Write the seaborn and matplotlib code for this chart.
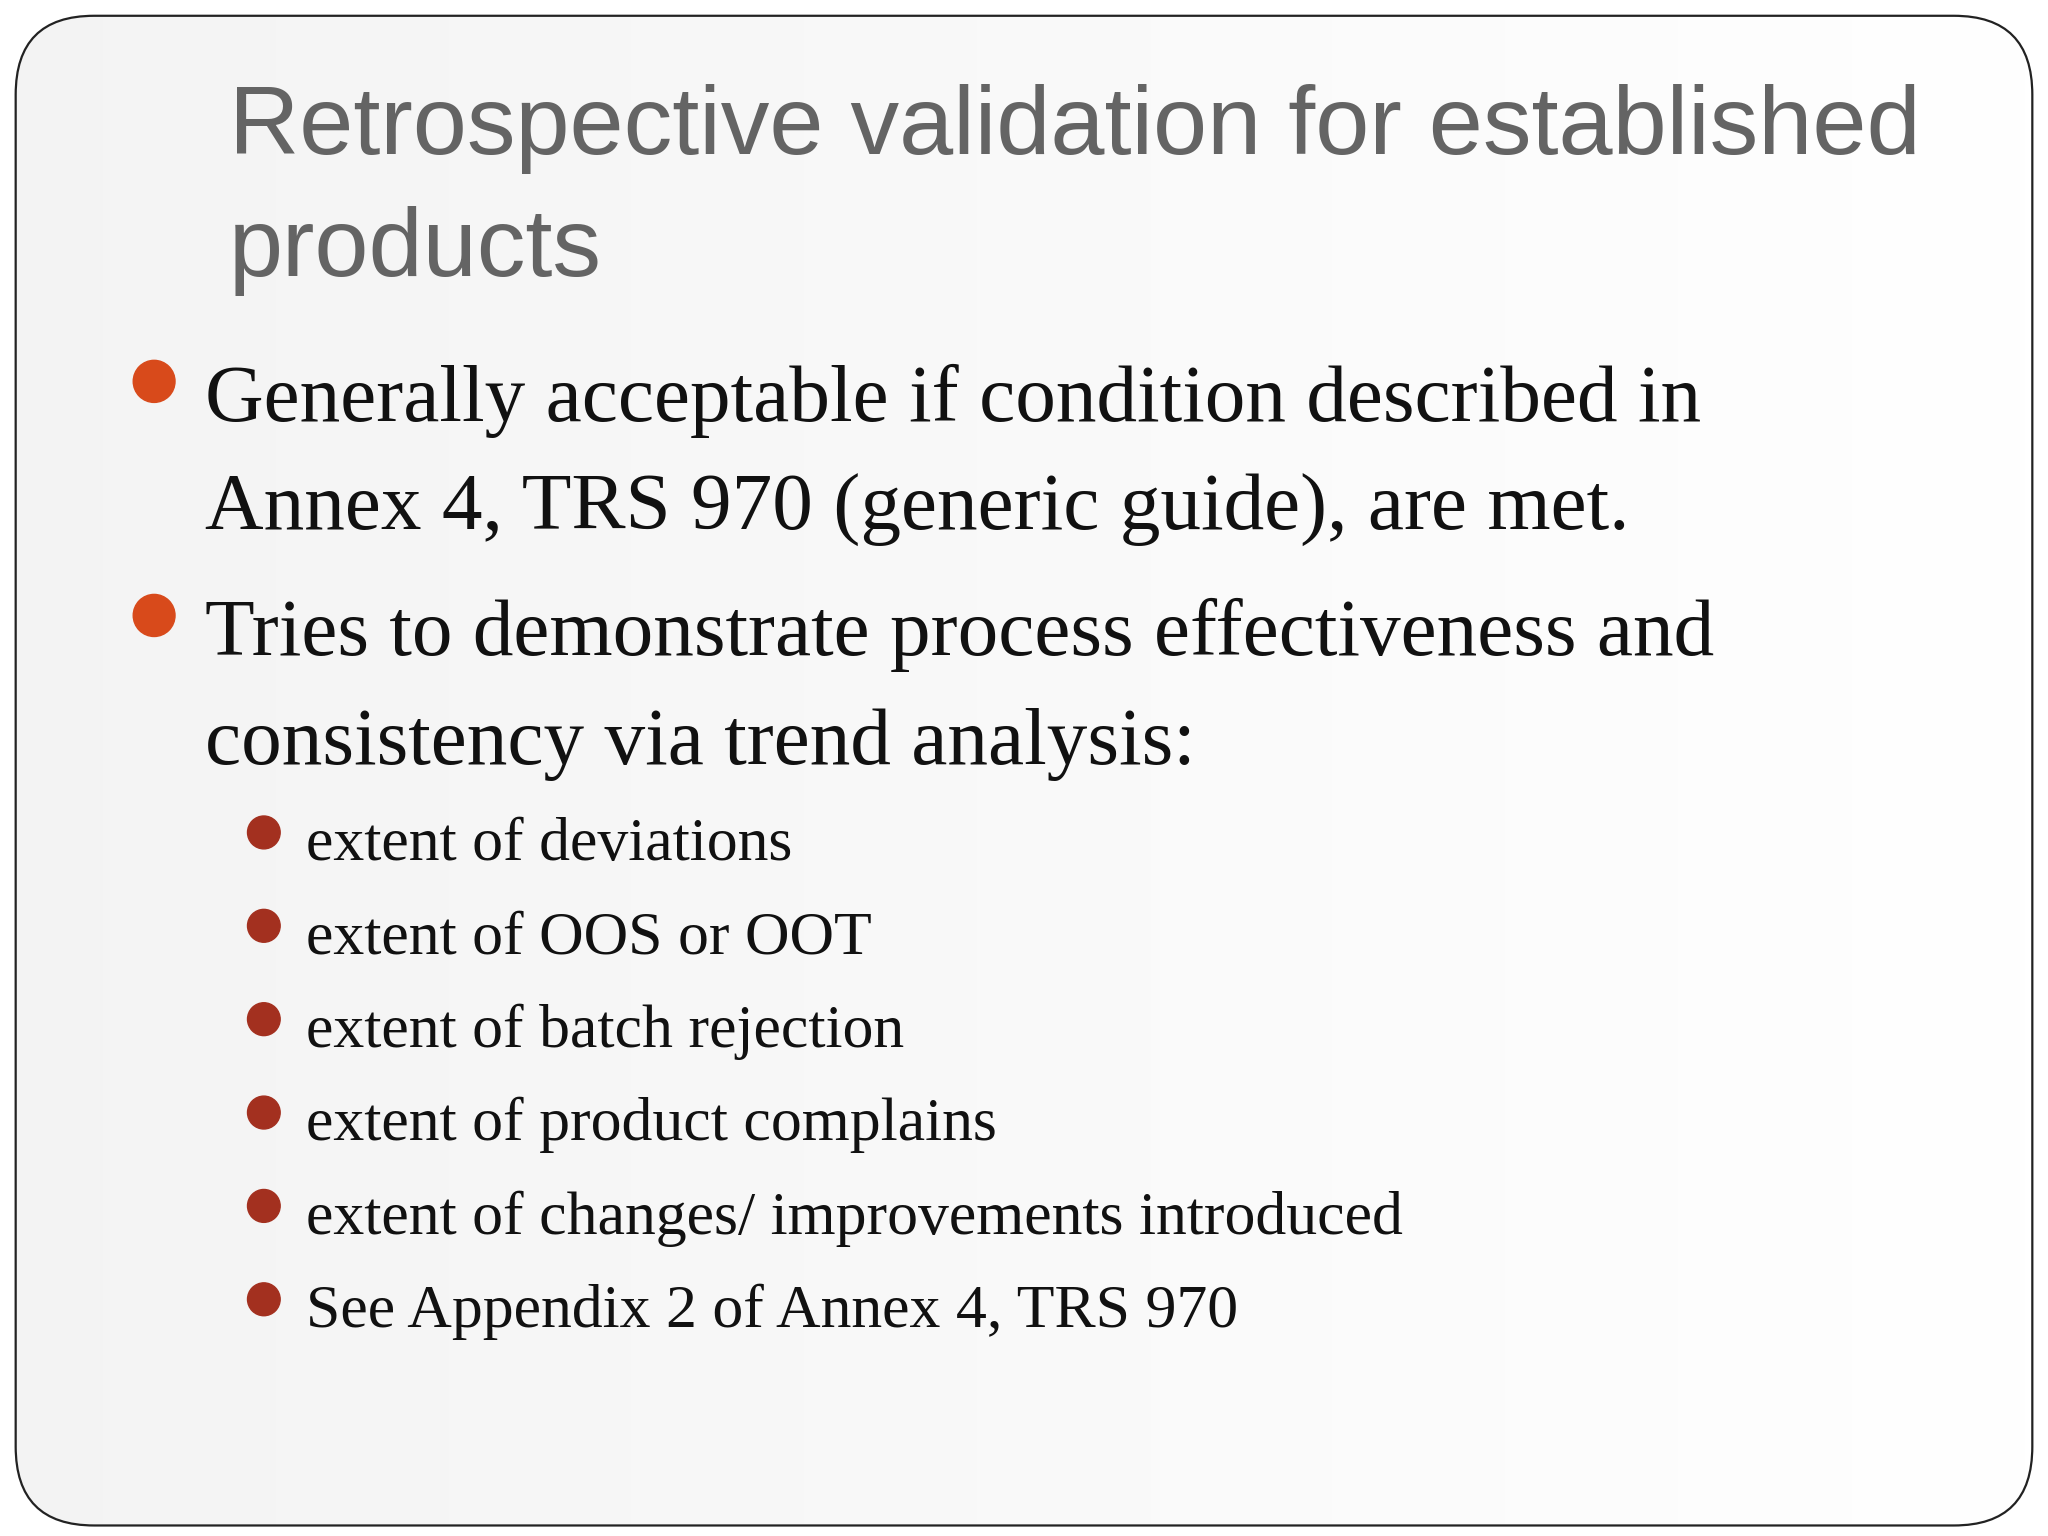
import matplotlib
matplotlib.use("Agg")
import matplotlib.pyplot as plt
from matplotlib.patches import FancyBboxPatch, Circle
import seaborn as sns
import numpy as np

sns.set_theme(style="white")

# ── Slide content ─────────────────────────────────────────────
title_lines = ["Retrospective validation for established", "products"]
main_bullets = [
    ["Generally acceptable if condition described in",
     "Annex 4, TRS 970 (generic guide), are met."],
    ["Tries to demonstrate process effectiveness and",
     "consistency via trend analysis:"],
]
sub_bullets = [
    "extent of deviations",
    "extent of OOS or OOT",
    "extent of batch rejection",
    "extent of product complains",
    "extent of changes/ improvements introduced",
    "See Appendix 2 of Annex 4, TRS 970",
]

W, H = 1568, 1168
fig = plt.figure(figsize=(20.48, 15.36), dpi=100, facecolor="white")
ax = fig.add_axes([0, 0, 1, 1])
ax.set_xlim(0, W)
ax.set_ylim(H, 0)
ax.axis("off")

# soft gray background gradient
grad = np.linspace(0, 1, 256).reshape(1, -1)
ax.imshow(np.dstack([0.955 + 0.045 * grad] * 3), extent=[12, 1556, 1160, 12],
          aspect="auto", zorder=0)
frame = FancyBboxPatch((12, 12), 1544, 1148, boxstyle="round,pad=0,rounding_size=60",
                       fill=False, edgecolor="#222222", linewidth=1.6, zorder=2)
ax.add_patch(frame)
bg = FancyBboxPatch((12, 12), 1544, 1148, boxstyle="round,pad=0,rounding_size=60",
                    facecolor="none", edgecolor="none")
ax.add_patch(bg)
ax.images[0].set_clip_path(bg)

# title
for i, line in enumerate(title_lines):
    ax.text(175, 117 + i * 93, line, family="Liberation Sans", fontsize=70,
            color="#646464", va="baseline", ha="left")

# main bullets
y = 320
for item in main_bullets:
    ax.add_patch(Circle((118, y - 30), 16, color="#d84a1b", zorder=3))
    for line in item:
        ax.text(157, y, line, family="Liberation Serif", fontsize=58.5,
                color="#111111", va="baseline", ha="left")
        y += 83
    y += 12

# sub bullets
y = 654
for item in sub_bullets:
    ax.add_patch(Circle((202, y - 21), 12.5, color="#a3301f", zorder=3))
    ax.text(234, y, item, family="Liberation Serif", fontsize=44.5,
            color="#111111", va="baseline", ha="left")
    y += 71

fig.savefig("out.png", dpi=100, facecolor="white")
